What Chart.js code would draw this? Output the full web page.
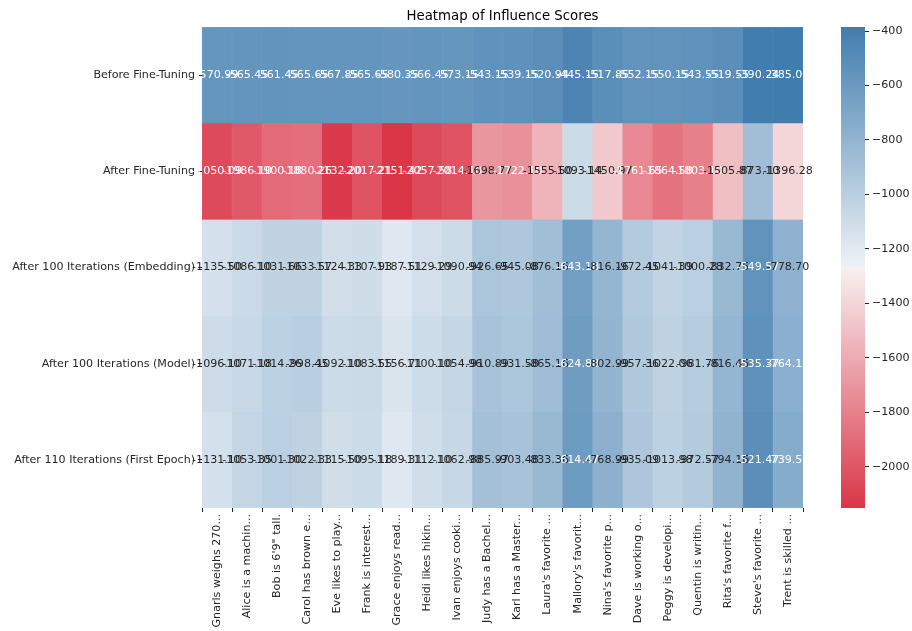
<!DOCTYPE html>
<html>
<head>
<meta charset="utf-8">
<script src="https://cdn.jsdelivr.net/npm/chart.js@4"></script>
<style>
  body { margin: 0; background: #fff; }
  #wrap { position: relative; width: 912px; height: 631px; }
  #main { position: absolute; left: 0; top: 0; }
  #bar { position: absolute; left: 820px; top: 0; }
</style>
</head>
<body>
<div id="wrap">
  <canvas id="main" width="912" height="631"></canvas>
  <canvas id="bar" width="92" height="631"></canvas>
</div>
<script>
//DADOS:
const rowLabels = ['Before Fine-Tuning', 'After Fine-Tuning', 'After 100 Iterations (Embedding)',
  'After 100 Iterations (Model)', 'After 110 Iterations (First Epoch)']
const sentences = ['Gnarls weighs 270...', 'Alice is a machin...', 'Bob is 6\'9" tall.', 'Carol has brown e...',
  'Eve likes to play...', 'Frank is interest...', 'Grace enjoys read...', 'Heidi likes hikin...',
  'Ivan enjoys cooki...', 'Judy has a Bachel...', 'Karl has a Master...', 'Laura\'s favorite ...',
  'Mallory\'s favorit...', 'Nina\'s favorite p...', 'Dave is working o...', 'Peggy is developi...',
  'Quentin is writin...', 'Rita\'s favorite f...', 'Steve\'s favorite ...', 'Trent is skilled ...']

const beforeFT = [-570.99, -565.45, -561.45, -565.65, -567.85, -565.65, -580.35, -566.45, -573.15, -543.15,
  -539.15, -520.94, -445.15, -517.85, -552.15, -550.15, -543.55, -519.55, -390.24, -385.09]
const afterFT = [-2050.09, -1986.10, -1900.18, -1880.26, -2132.20, -2017.21, -2151.42, -2057.58, -2014.10, -1698.77,
  -1722.10, -1555.50, -1093.14, -1450.97, -1761.65, -1864.58, -1803.10, -1505.87, -873.10, -1396.28]
const iter100Emb = [-1135.50, -1086.10, -1031.66, -1033.57, -1124.33, -1107.93, -1187.51, -1129.29, -1090.94, -926.65,
  -945.08, -876.16, -643.18, -816.16, -972.45, -1041.39, -1000.28, -832.75, -549.57, -778.70]
const iter100Model = [-1096.10, -1071.18, -1014.26, -998.45, -1092.10, -1083.55, -1156.71, -1100.10, -1054.96, -910.89,
  -931.58, -865.16, -624.88, -802.99, -957.36, -1022.06, -981.76, -816.45, -535.37, -764.14]
const iter110 = [-1131.10, -1053.35, -1001.30, -1022.33, -1115.50, -1095.18, -1189.31, -1112.10, -1062.98, -885.97,
  -903.48, -833.36, -614.47, -768.99, -935.09, -1013.98, -972.57, -794.16, -521.47, -739.57]

const cbTicks = [-400, -600, -800, -1000, -1200, -1400, -1600, -1800, -2000]

const allRows = [beforeFT, afterFT, iter100Emb, iter100Model, iter110]
const vmin = Math.min(...allRows.flat())
const vmax = Math.max(...allRows.flat())

//PALETA (vermelho -> cinza claro -> azul), mistura linear em cada metade:
const stops = [
  [0, [218, 54, 72]], [0.498, [248, 240, 240]], [0.5, [242, 242, 242]],
  [0.502, [238, 242, 246]], [1, [64, 125, 175]]
]
function colorAt(t) {
  t = Math.max(0, Math.min(1, t))
  for (let i = 1; i < stops.length; i++) {
    if (t <= stops[i][0]) {
      let a = stops[i - 1], b = stops[i]
      let f = (t - a[0]) / (b[0] - a[0])
      return a[1].map((c, k) => Math.round(c + (b[1][k] - c) * f))
    }
  }
  return stops[stops.length - 1][1]
}
const rgb = c => `rgb(${c[0]},${c[1]},${c[2]})`
const cellColor = v => colorAt((v - vmin) / (vmax - vmin))
function lum(c) {
  let l = c.map(x => { x /= 255; return x <= 0.03928 ? x / 12.92 : Math.pow((x + 0.055) / 1.055, 2.4) })
  return 0.2126 * l[0] + 0.7152 * l[1] + 0.0722 * l[2]
}

const FONT = 'DejaVu Sans'
Chart.defaults.font.family = FONT
Chart.defaults.font.size = 11.1
Chart.defaults.color = '#262626'

//ANOTAÇÕES + TÍTULO:
const annotPlugin = {
  id: 'annot',
  afterDatasetsDraw(chart) {
    const ctx = chart.ctx, xs = chart.scales.x, ys = chart.scales.y
    ctx.save()
    ctx.font = '11.1px ' + FONT
    ctx.textAlign = 'center'
    ctx.textBaseline = 'middle'
    allRows.forEach((row, r) => {
      row.forEach((v, c) => {
        ctx.fillStyle = lum(cellColor(v)) > 0.408 ? '#262626' : '#ffffff'
        ctx.fillText(v.toFixed(2), xs.getPixelForValue(c), ys.getPixelForValue(r + 0.5))
      })
    })
    const a = chart.chartArea
    ctx.font = '13.3px ' + FONT
    ctx.fillStyle = '#000'
    ctx.textBaseline = 'alphabetic'
    ctx.fillText('Heatmap of Influence Scores', (a.left + a.right) / 2, a.top - 7)
    ctx.restore()
  }
}

new Chart(document.querySelector('#main'), {
  type: 'bar',
  data: {
    labels: sentences,
    datasets: allRows.map((row, r) => ({
      label: rowLabels[r],
      data: row.map(() => 1),
      backgroundColor: row.map(v => rgb(cellColor(v))),
      borderColor: row.map(v => rgb(cellColor(v))),
      borderWidth: 0.5,
      borderSkipped: false,
      barPercentage: 1,
      categoryPercentage: 1
    }))
  },
  options: {
    responsive: false,
    animation: false,
    layout: { padding: { left: 0, right: 109, top: 27, bottom: 0 } },
    plugins: { legend: { display: false }, tooltip: { enabled: false } },
    scales: {
      x: {
        stacked: true,
        grid: { drawOnChartArea: false, tickLength: 4, color: '#262626' },
        border: { display: false },
        ticks: { minRotation: 90, maxRotation: 90, padding: 2, autoSkip: false },
        afterFit: axis => { axis.height = 123 }
      },
      y: {
        stacked: true,
        reverse: true,
        min: 0,
        max: 5,
        grid: { drawOnChartArea: false, tickLength: 4, color: '#262626' },
        border: { display: false },
        afterBuildTicks: axis => { axis.ticks = [0.5, 1.5, 2.5, 3.5, 4.5].map(v => ({ value: v })) },
        ticks: { padding: 3, autoSkip: false, callback: v => rowLabels[Math.floor(v)] },
        afterFit: axis => { axis.width = 202 }
      }
    }
  },
  plugins: [annotPlugin]
})

//BARRA DE CORES:
new Chart(document.querySelector('#bar'), {
  type: 'bar',
  data: {
    labels: [''],
    datasets: [{
      data: [[vmin, vmax]],
      barPercentage: 1,
      categoryPercentage: 1,
      borderWidth: 0,
      backgroundColor: function(context) {
        const a = context.chart.chartArea
        if (!a) return '#ccc'
        const g = context.chart.ctx.createLinearGradient(0, a.bottom, 0, a.top)
        stops.forEach(s => g.addColorStop(s[0], rgb(s[1])))
        return g
      }
    }]
  },
  options: {
    responsive: false,
    animation: false,
    layout: { padding: { left: 21, right: 0, top: 27, bottom: 123 } },
    plugins: { legend: { display: false }, tooltip: { enabled: false } },
    scales: {
      x: { display: false },
      y: {
        position: 'right',
        min: vmin,
        max: vmax,
        grid: { drawOnChartArea: false, tickLength: 4, color: '#262626' },
        border: { display: false },
        afterBuildTicks: axis => { axis.ticks = cbTicks.map(v => ({ value: v })) },
        ticks: { padding: 3, callback: v => '\u2212' + Math.abs(v) },
        afterFit: axis => { axis.width = 47 }
      }
    }
  }
})
</script>
</body>
</html>
